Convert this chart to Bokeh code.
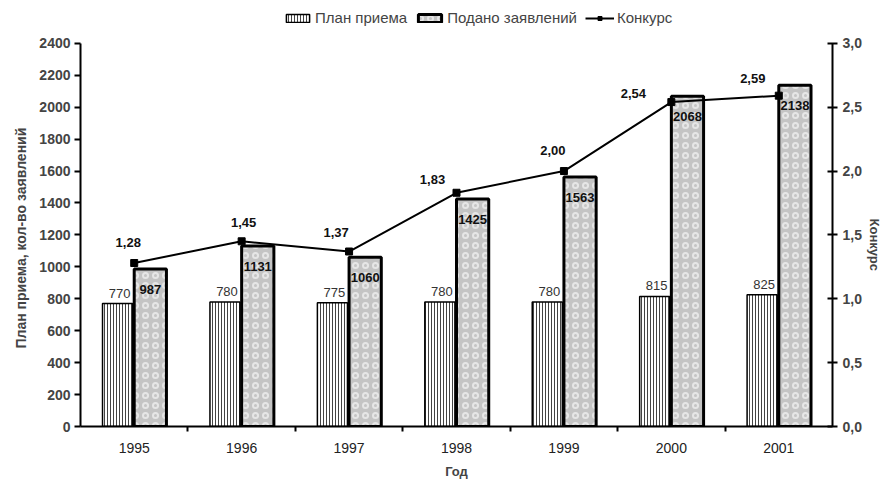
from bokeh.plotting import figure
from bokeh.models import (ColumnDataSource, Range1d, LinearAxis, FixedTicker,
                          CustomJSTickFormatter, LabelSet, Legend, LegendItem, Title)
from bokeh.embed import file_html
from bokeh.resources import INLINE
from bokeh.core.properties import value

# ---- data ----
years = ["1995", "1996", "1997", "1998", "1999", "2000", "2001"]
plan = [770, 780, 775, 780, 780, 815, 825]
applied = [987, 1131, 1060, 1425, 1563, 2068, 2138]
konkurs = [1.28, 1.45, 1.37, 1.83, 2.00, 2.54, 2.59]
left_ticks = [0, 200, 400, 600, 800, 1000, 1200, 1400, 1600, 1800, 2000, 2200, 2400]
right_ticks = [0.0, 0.5, 1.0, 1.5, 2.0, 2.5, 3.0]
left_max = 2400
right_max = 3.0

# label placement (style)
k_dx = [-6, 2, -13, -24, -11, -38, -26]
k_dy = [21, 19, 19, 13, 21, 9, 17]

FONT = "Liberation Sans"

W, H = 885, 481
B_LEFT, B_RIGHT, B_TOP, B_BOTTOM = 80, 52, 4, 53
frame_h = H - B_TOP - B_BOTTOM
axis_h = 385                       # pixel height of the value axes
stretch = frame_h / axis_h         # room above the axes for the legend

n = len(years)
xc = [i + 0.5 for i in range(n)]
src = ColumnDataSource(dict(
    xc=xc,
    xp=[x - 0.155 for x in xc],
    xa=[x + 0.15 for x in xc],
    plan=plan, applied=applied, konkurs=konkurs,
    plan_txt=[str(v) for v in plan],
    app_txt=[str(v) for v in applied],
    k_txt=[f"{v:.2f}".replace(".", ",") for v in konkurs],
    dx=k_dx, dy=k_dy,
))

p = figure(width=W, height=H, output_backend="svg",
           toolbar_location=None, x_range=Range1d(0, n),
           y_range=Range1d(0, left_max * stretch),
           min_border_left=B_LEFT, min_border_right=B_RIGHT, min_border_top=B_TOP,
           min_border_bottom=B_BOTTOM)
p.outline_line_color = None
p.xgrid.visible = False
p.ygrid.visible = False
p.background_fill_color = "white"

p.extra_y_ranges = {"k": Range1d(0, right_max * stretch)}

# bars
r_plan = p.vbar(x="xp", top="plan", width=0.28, source=src, fill_color="white",
                line_color="black", line_width=1.5, hatch_pattern="|",
                hatch_color="#444444", hatch_scale=3, hatch_weight=1)
r_app = p.vbar(x="xa", top="applied", width=0.3, source=src, fill_color="#c4c4c4",
               line_color="black", line_width=3, hatch_pattern="o",
               hatch_color="#efefef", hatch_scale=10, hatch_weight=2, hatch_alpha=0.8)

# line
r_line = p.line(x="xc", y="konkurs", source=src, y_range_name="k",
                line_color="black", line_width=2)
r_mark = p.scatter(x="xc", y="konkurs", source=src, y_range_name="k", marker="square",
                   size=7, fill_color="black", line_color="black")

# labels
p.add_layout(LabelSet(x="xp", y="plan", text="plan_txt", source=src, y_offset=6,
                      x_offset=2, text_align="center", text_baseline="bottom",
                      text_font=value(FONT), text_font_size="13px", text_color="#333333"))
p.add_layout(LabelSet(x="xa", y="applied", text="app_txt", source=src, y_offset=-16,
                      text_align="center", text_baseline="top",
                      text_font=value(FONT), text_font_size="13px",
                      text_font_style="bold", text_color="#111111"))
p.add_layout(LabelSet(x="xc", y="konkurs", y_range_name="k", text="k_txt", source=src,
                      x_offset="dx", y_offset="dy", text_align="center",
                      text_baseline="middle", text_font=value(FONT),
                      text_font_size="13px", text_font_style="bold",
                      text_color="#111111"))

# x axis
xa = p.xaxis[0]
xa.ticker = FixedTicker(ticks=xc, minor_ticks=list(range(1, n)))
xa.formatter = CustomJSTickFormatter(args=dict(years=years),
                                     code="return years[Math.floor(tick)];")
xa.major_tick_line_color = None
xa.minor_tick_line_color = "black"
xa.minor_tick_line_width = 2
xa.minor_tick_out = 5
xa.minor_tick_in = 0
xa.axis_line_width = 2
xa.axis_line_color = "black"
xa.major_label_text_font = FONT
xa.major_label_text_font_size = "14px"
xa.major_label_text_color = "#222222"
xa.major_label_standoff = 10
xa.axis_label = "Год"
xa.axis_label_text_font = FONT
xa.axis_label_text_font_size = "13px"
xa.axis_label_text_font_style = "bold"
xa.axis_label_standoff = 8

# left axis
ya = p.yaxis[0]
ya.ticker = FixedTicker(ticks=left_ticks)
ya.bounds = (0, left_max)
ya.minor_tick_line_color = None
ya.major_tick_out = 6
ya.major_tick_in = 0
ya.major_tick_line_width = 2
ya.axis_line_width = 2
ya.major_label_text_font = FONT
ya.major_label_text_font_size = "14px"
ya.major_label_text_font_style = "bold"
ya.major_label_standoff = 4

# right axis
ra = LinearAxis(y_range_name="k", ticker=FixedTicker(ticks=right_ticks),
                formatter=CustomJSTickFormatter(code="return tick.toFixed(1).replace('.', ',');"))
ra.bounds = (0, right_max)
ra.minor_tick_line_color = None
ra.major_tick_out = 5
ra.major_tick_in = 5
ra.major_tick_line_width = 2
ra.axis_line_width = 2
ra.major_label_text_font = FONT
ra.major_label_text_font_size = "14px"
ra.major_label_text_font_style = "bold"
ra.major_label_standoff = 5
p.add_layout(ra, "right")

# axis titles (as side titles so they centre on the value axes, not on the frame)
p.add_layout(Title(text="План приема, кол-во заявлений", align="left",
                   offset=78, standoff=16, text_font=FONT, text_font_size="14px",
                   text_font_style="bold"), "left")
p.add_layout(Title(text="Конкурс", align="left", offset=214, standoff=4,
                   text_font=FONT, text_font_size="13px", text_font_style="bold"),
             "right")

# legend
legend = Legend(items=[
    LegendItem(label="План приема", renderers=[r_plan]),
    LegendItem(label="Подано заявлений", renderers=[r_app]),
    LegendItem(label="Конкурс", renderers=[r_line, r_mark]),
], orientation="horizontal", location=(203, axis_h + 15), border_line_color=None,
    background_fill_alpha=0, label_text_font=FONT, label_text_font_size="15px",
    glyph_width=29, glyph_height=10, spacing=8, padding=2, label_standoff=3,
    margin=0)
p.add_layout(legend, "center")

open("out.html", "w").write(file_html(p, INLINE))
